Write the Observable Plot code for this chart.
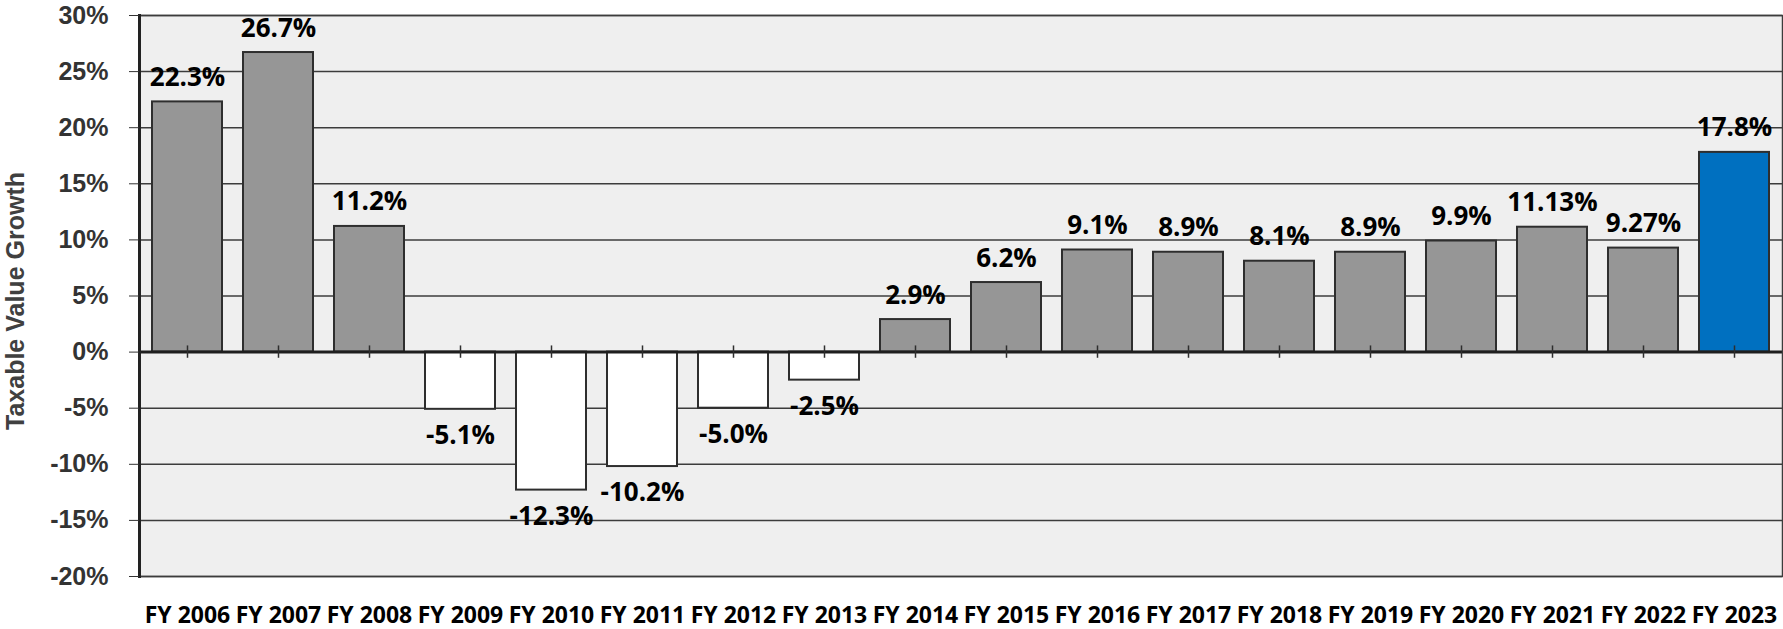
<!DOCTYPE html>
<html>
<head>
<meta charset="utf-8">
<script src="https://cdn.jsdelivr.net/npm/d3@7"></script>
<script src="https://cdn.jsdelivr.net/npm/@observablehq/plot@0.6"></script>
<style>
  html, body { margin: 0; padding: 0; background: #ffffff; }
  #chart svg { display: block; }
</style>
</head>
<body>
<div id="chart"></div>
<script>
const years = ["FY 2006", "FY 2007", "FY 2008", "FY 2009", "FY 2010", "FY 2011", "FY 2012", "FY 2013", "FY 2014",
               "FY 2015", "FY 2016", "FY 2017", "FY 2018", "FY 2019", "FY 2020", "FY 2021", "FY 2022", "FY 2023"];
const growth = [22.3, 26.7, 11.2, -5.1, -12.3, -10.2, -5.0, -2.5, 2.9, 6.2, 9.1, 8.9, 8.1, 8.9, 9.9, 11.13, 9.27, 17.8];
const valueLabels = ["22.3%", "26.7%", "11.2%", "-5.1%", "-12.3%", "-10.2%", "-5.0%", "-2.5%", "2.9%",
                     "6.2%", "9.1%", "8.9%", "8.1%", "8.9%", "9.9%", "11.13%", "9.27%", "17.8%"];
const yTicks = [-20, -15, -10, -5, 0, 5, 10, 15, 20, 25, 30];
const highlightYear = "FY 2023";
const yTitle = "Taxable Value Growth";

const data = years.map((year, i) => ({year, value: growth[i], label: valueLabels[i]}));

const font = "'Open Sans', 'Noto Sans', sans-serif";

const chart = Plot.plot({
  width: 1783,
  height: 629,
  marginLeft: 139,
  marginRight: 1,
  marginTop: 15,
  marginBottom: 53,
  x: {domain: years, paddingInner: 0.23, paddingOuter: 0.115, axis: null},
  y: {domain: [-20, 30], axis: null},
  style: {background: "#ffffff", fontFamily: font},
  marks: [
    Plot.frame({fill: "#efefef", stroke: null}),
    Plot.gridY(yTicks, {stroke: "#3c3c3c", strokeOpacity: 1, strokeWidth: 1.5}),
    Plot.barY(data, {
      x: "year", y: "value",
      fill: d => d.year === highlightYear ? "#0070c0" : d.value < 0 ? "#ffffff" : "#969696",
      stroke: "#2e2e2e", strokeWidth: 2
    }),
    Plot.ruleY([0], {stroke: "#1e1e1e", strokeWidth: 3}),
    Plot.ruleX(data, {x: "year", y1: -0.55, y2: 0.55, stroke: "#2e2e2e", strokeWidth: 1.5}),
    Plot.text(data.filter(d => d.value >= 0), {
      x: "year", y: "value", text: "label", lineAnchor: "bottom", dy: -16,
      fontSize: 26, fontWeight: 700, fill: "#000000"
    }),
    Plot.text(data.filter(d => d.value < 0), {
      x: "year", y: "value", text: "label", lineAnchor: "top", dy: 16,
      fontSize: 26, fontWeight: 700, fill: "#000000"
    }),
    Plot.frame({stroke: "#3c3c3c", strokeWidth: 1.5}),
    Plot.frame({anchor: "left", stroke: "#222222", strokeWidth: 3}),
    Plot.axisY({
      ticks: yTicks, tickSize: 10, tickPadding: 21, tickFormat: d => `${d}%`,
      fontSize: 25, fontWeight: 700, fontFamily: "Liberation Sans, Arial, sans-serif",
      color: "#333333", label: null
    }),
    Plot.axisX({
      tickSize: 0, tickPadding: 30, fontSize: 23, fontWeight: 700, color: "#000000", label: null
    }),
    Plot.text([yTitle], {
      frameAnchor: "left", textAnchor: "middle", lineAnchor: "middle", rotate: -90, dx: -124, dy: 5,
      fontSize: 25, fontWeight: "bold", fontFamily: "Liberation Sans, Arial, sans-serif", fill: "#404040"
    })
  ]
});

document.getElementById("chart").appendChild(chart);
</script>
</body>
</html>
